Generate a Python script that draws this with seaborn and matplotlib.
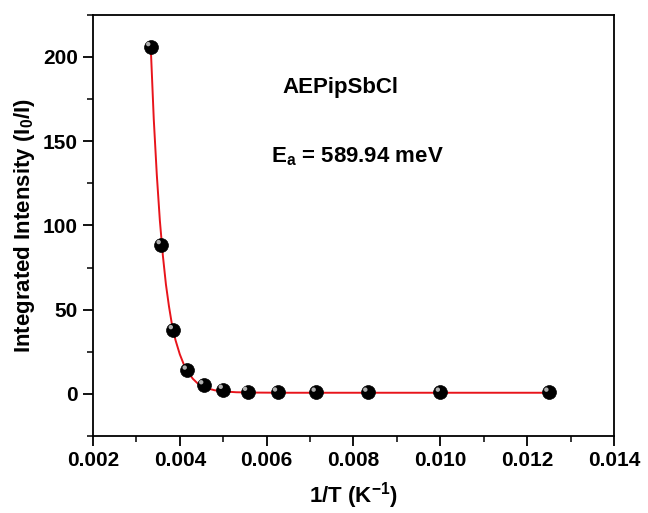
import matplotlib
matplotlib.use("Agg")
import matplotlib.pyplot as plt
import matplotlib.transforms as mtransforms
from matplotlib.ticker import MultipleLocator
import seaborn as sns
import pandas as pd

# Data
inv_T = [0.00333, 0.00357, 0.00385, 0.00417, 0.00455, 0.00500,
         0.00556, 0.00625, 0.00714, 0.00833, 0.01000, 0.01250]
intensity = [206.0, 88.5, 38.0, 14.0, 5.3, 2.6, 1.4, 1.0, 0.9, 0.9, 0.9, 0.9]

fit_x = [0.00333, 0.00340, 0.00347, 0.00354, 0.00361, 0.00368, 0.00375,
         0.00382, 0.00390, 0.00400, 0.00410, 0.00420, 0.00430, 0.00440,
         0.00450, 0.00465, 0.00480, 0.00500, 0.00530, 0.00570, 0.00650, 0.01250]
fit_y = [206.0, 163.0, 130.0, 103.0, 82.0, 65.0, 52.0,
         41.0, 32.0, 23.5, 17.0, 12.5, 9.0, 6.5,
         4.8, 3.2, 2.2, 1.5, 1.0, 0.8, 0.7, 0.7]

xticks = [0.002, 0.004, 0.006, 0.008, 0.010, 0.012, 0.014]
yticks = [0, 50, 100, 150, 200]

sns.set_style("white")
plt.rcParams['font.family'] = ['Liberation Sans', 'DejaVu Sans']
plt.rcParams['font.weight'] = 'bold'
plt.rcParams['text.color'] = 'black'
plt.rcParams['axes.labelcolor'] = 'black'
plt.rcParams['xtick.color'] = 'black'
plt.rcParams['ytick.color'] = 'black'
plt.rcParams['mathtext.fontset'] = 'custom'
plt.rcParams['mathtext.rm'] = 'Liberation Sans:bold'
plt.rcParams['mathtext.it'] = 'Liberation Sans:bold'
plt.rcParams['mathtext.bf'] = 'Liberation Sans:bold'

fig = plt.figure(figsize=(6.48, 5.13), dpi=100)
ax = fig.add_axes([0.1435, 0.150, 0.804, 0.821])

pts = pd.DataFrame({"x": inv_T, "y": intensity})
fit = pd.DataFrame({"x": fit_x, "y": fit_y})

sns.lineplot(data=fit, x="x", y="y", ax=ax, color="#e8141b", lw=1.4,
             sort=False, zorder=2)
sns.scatterplot(data=pts, x="x", y="y", ax=ax, color="black", s=100,
                edgecolor="black", linewidth=0.5, zorder=3)
hl = mtransforms.offset_copy(ax.transData, fig=fig, x=-1.8, y=2.0, units='points')
ax.scatter(inv_T, intensity, s=10, color="#b0b0b0", edgecolor="none",
           transform=hl, zorder=4)

ax.set_xlim(0.002, 0.014)
ax.set_ylim(-25, 225)
ax.set_xticks(xticks)
ax.set_xticklabels([f"{t:.3f}" for t in xticks])
ax.set_yticks(yticks)
ax.xaxis.set_minor_locator(MultipleLocator(0.001))
ax.yaxis.set_minor_locator(MultipleLocator(25))
ax.tick_params(which='major', direction='out', length=7, width=1.3,
               labelsize=15, bottom=True, left=True, top=False, right=False,
               color='black', labelcolor='black', pad=4)
ax.tick_params(which='minor', direction='out', length=4, width=1.1,
               bottom=True, left=True, top=False, right=False, color='black')
for lab in ax.get_xticklabels() + ax.get_yticklabels():
    lab.set_fontweight('bold')
for s in ax.spines.values():
    s.set_visible(True)
    s.set_linewidth(1.3)
    s.set_color('black')

ax.set_xlabel("1/T (K$^{-1}$)", fontsize=16, fontweight='bold', labelpad=7,
              color='black')
ax.set_ylabel("Integrated Intensity (I$_0$/I)", fontsize=16, fontweight='bold',
              labelpad=4, color='black')

ax.text(0.474, 0.827, "AEPipSbCl", transform=ax.transAxes, fontsize=16,
        fontweight='bold', ha='center', va='center', color='black')
ax.text(0.507, 0.663, "E$_a$ = 589.94 meV", transform=ax.transAxes, fontsize=16,
        fontweight='bold', ha='center', va='center', color='black')

fig.savefig("out.png", dpi=100)
